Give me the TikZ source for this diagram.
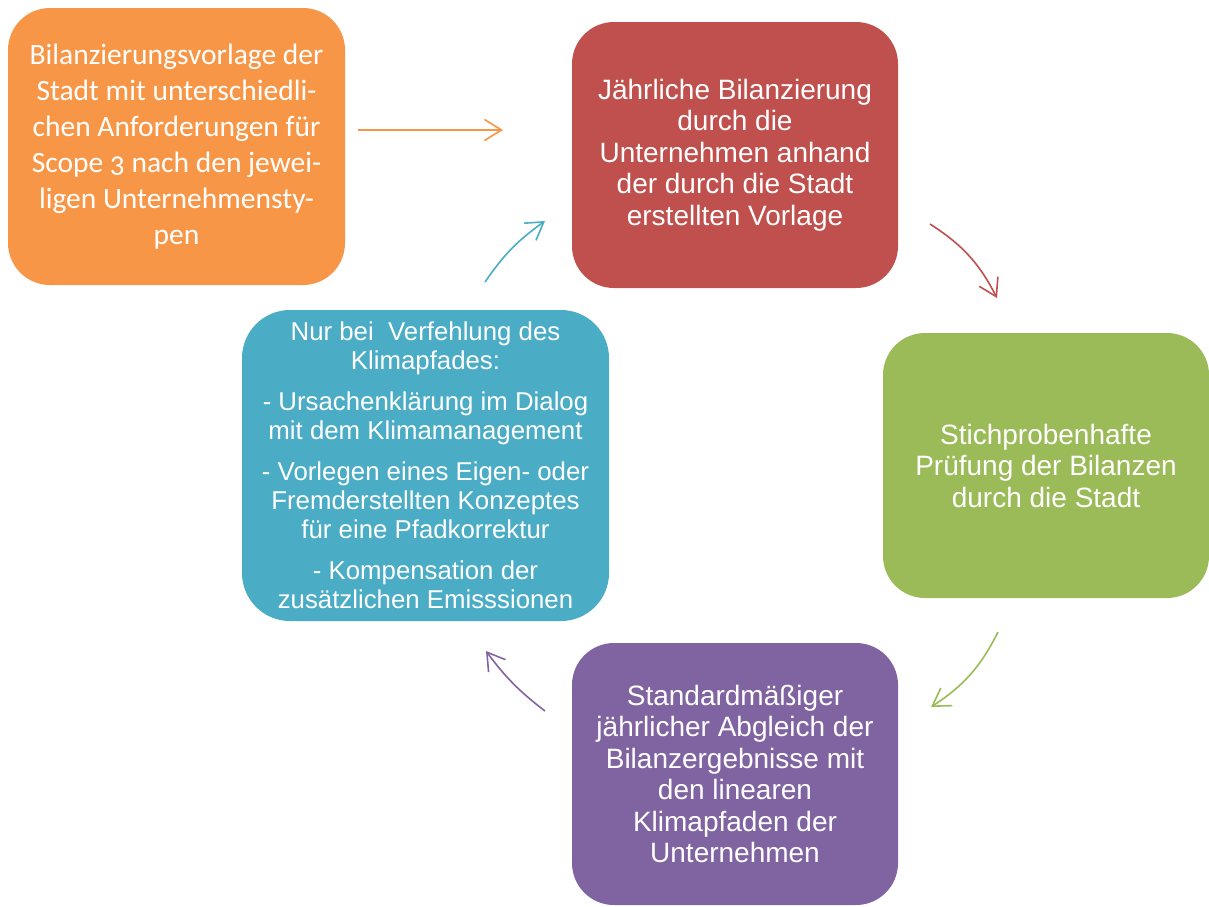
\documentclass[tikz,border=0pt]{standalone}
\usepackage{fontspec}
\setmainfont{Liberation Sans}
\newfontfamily\carlito[Numbers=OldStyle]{Carlito}
\usepackage{tikz}
\usetikzlibrary{arrows.meta,positioning}

\definecolor{vorlageorange}{HTML}{F79646}
\definecolor{bilanzrot}{HTML}{C0504D}
\definecolor{pruefgruen}{HTML}{9BBB59}
\definecolor{abgleichlila}{HTML}{8064A2}
\definecolor{pfadblau}{HTML}{4BACC6}

\tikzset{
  box/.style={rectangle, rounded corners=42pt, text=white, align=center,
    inner sep=0pt, font=\fontsize{28}{31.5}\selectfont},
  pfeil/.style={line width=1.6pt, -{Straight Barb[length=17pt,width=21pt,line width=1.6pt]}}
}

\begin{document}
\begin{tikzpicture}[x=1pt,y=-1pt]
            \useasboundingbox (0,0) rectangle (1209,906);
            \node[box, fill=vorlageorange, minimum width=337pt, minimum height=277pt,
                  font=\carlito\fontsize{29.5}{36}\selectfont] (vorlage) at (176.5,146.5)
                {Bilanzierungsvorlage der\\Stadt mit unterschiedli-\\chen Anforderungen f\"ur\\Scope 3 nach den jewei-\\ligen Unternehmensty-\\pen};
            \node[box, fill=bilanzrot, minimum width=326pt, minimum height=266pt] (bilanzierung) at (735,155)
                {J\"ahrliche Bilanzierung\\durch die\\Unternehmen anhand\\der durch die Stadt\\erstellten Vorlage};
            \node[box, fill=pruefgruen, minimum width=326pt, minimum height=265pt] (pruefung) at (1046,465.5)
                {Stichprobenhafte\\Pr\"ufung der Bilanzen\\durch die Stadt};
            \node[box, fill=abgleichlila, minimum width=326pt, minimum height=262pt] (abgleich) at (735,774)
                {Standardm\"a\ss iger\\j\"ahrlicher Abgleich der\\Bilanzergebnisse mit\\den linearen\\Klimapfaden der\\Unternehmen};
            \node[box, fill=pfadblau, minimum width=367pt, minimum height=311pt, rounded corners=48pt,
                  font=\fontsize{25.8}{29}\selectfont] (verfehlung) at (425.5,465.5)
                {Nur bei~ Verfehlung des\\Klimapfades:\\[12pt]- Ursachenkl\"arung im Dialog\\mit dem Klimamanagement\\[12pt]- Vorlegen eines Eigen- oder\\Fremderstellten Konzeptes\\f\"ur eine Pfadkorrektur\\[12pt]- Kompensation der\\zus\"atzlichen Emisssionen};
            % Pfeile zwischen den Schritten
            \coordinate (p1) at (358,130);
            \coordinate (p2) at (503,130);
            \coordinate (p3) at (930,224);
            \coordinate (p4) at (997,298);
            \coordinate (p5) at (998,632);
            \coordinate (p6) at (931,707);
            \coordinate (p7) at (545,711);
            \coordinate (p8) at (486,651);
            \coordinate (p9) at (485,282);
            \coordinate (p10) at (545,221);
            \draw[pfeil, vorlageorange] (p1) -- (p2);
            \draw[pfeil, bilanzrot] (p3) to[bend left=15] (p4);
            \draw[pfeil, pruefgruen] (p5) to[bend left=15] (p6);
            \draw[pfeil, abgleichlila] (p7) to[bend left=8] (p8);
            \draw[pfeil, pfadblau] (p9) to[bend left=10] (p10);
        \end{tikzpicture}
\end{document}
